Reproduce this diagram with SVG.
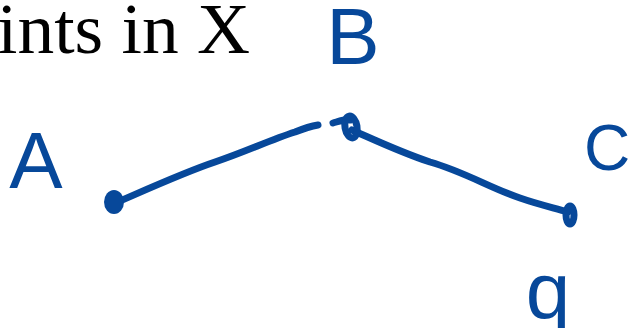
<svg xmlns="http://www.w3.org/2000/svg" width="632" height="328" viewBox="0 0 632 328">
  <style>
    .ink { fill: none; stroke: #07489a; stroke-width: 7; stroke-linecap: round; stroke-linejoin: round; }
    .dot { fill: #07489a; }
    .hand { font-family: "Liberation Sans", "DejaVu Sans", sans-serif; fill: #07489a; text-anchor: middle; }
    .title { font-family: "Liberation Serif", "DejaVu Serif", serif; fill: #000; }
  </style>
  <rect width="632" height="328" fill="#fff"/>
  <text class="title" x="-3" y="53" font-size="72" textLength="253" lengthAdjust="spacingAndGlyphs">ints in X</text>
  <g id="connectors">
    <path class="ink" d="M113,204 C150,188 185,172 215,162 C245,152 270,140 295,132 C305,128 312,126 318,125"/>
    <path class="ink" d="M333,123 C340,121 345,119 350,120"/>
    <path class="ink" d="M352,130 C375,140 400,152 430,162 C465,172 490,188 520,198 C540,205 555,208 568,212"/>
  </g>
  <g id="node-A">
    <ellipse class="dot" cx="114" cy="202" rx="10" ry="12"/>
    <text class="hand" x="36" y="188" font-size="80">A</text>
  </g>
  <g id="node-B">
    <ellipse class="ink" cx="351" cy="127" rx="6" ry="11" transform="rotate(-10 351 127)"/>
    <text class="hand" x="353" y="64" font-size="80">B</text>
  </g>
  <g id="node-C">
    <ellipse class="ink" cx="570" cy="215" rx="4" ry="9"/>
    <text class="hand" x="607" y="170" font-size="64">C</text>
  </g>
  <g id="label-q">
    <text class="hand" x="548" y="318" font-size="80">q</text>
  </g>
</svg>
